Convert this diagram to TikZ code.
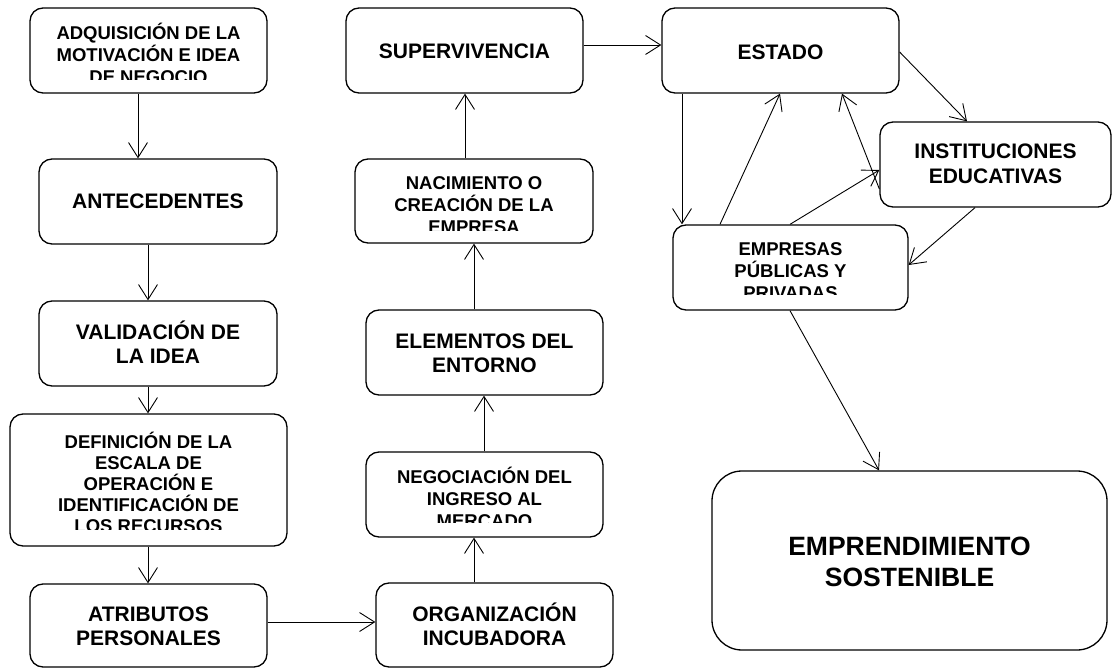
\documentclass[tikz,border=0pt]{standalone}
\usepackage{fontspec}
\setmainfont{Liberation Sans}
\usetikzlibrary{arrows.meta}
\tikzset{
  box/.style={draw, line width=1.3pt, rounded corners=13pt, inner sep=0pt},
  bigbox/.style={draw, line width=1.3pt, rounded corners=30pt, inner sep=0pt},
  arr/.style={line width=0.9pt, -{Straight Barb[length=15pt,width=19pt,line width=0.9pt]}},
  tsmall/.style={anchor=base, align=center, inner sep=0pt, font=\bfseries\fontsize{18.5}{22}\selectfont},
  tnorm/.style={anchor=base, align=center, inner sep=0pt, font=\bfseries\fontsize{21}{24}\selectfont},
  tbig/.style={anchor=base, align=center, inner sep=0pt, font=\bfseries\fontsize{26.5}{31}\selectfont},
}
\begin{document}
\begin{tikzpicture}[x=1pt,y=-1pt]
\useasboundingbox (0,0) rectangle (1112,668);
% boxes
\node[box, minimum width=237pt, minimum height=85pt] (adq) at (148.5,50.5) {};
\node[box, minimum width=238pt, minimum height=85pt] (ant) at (158,201.5) {};
\node[box, minimum width=238pt, minimum height=85pt] (val) at (158,343.5) {};
\node[box, minimum width=277pt, minimum height=132pt] (def) at (148.5,480) {};
\node[box, minimum width=237pt, minimum height=83pt] (atr) at (148.5,625.5) {};
\node[box, minimum width=237pt, minimum height=84pt] (org) at (494.5,625) {};
\node[box, minimum width=237pt, minimum height=85pt] (neg) at (484.5,494.5) {};
\node[box, minimum width=237pt, minimum height=85pt] (ele) at (484.5,352.5) {};
\node[box, minimum width=238pt, minimum height=84pt] (nac) at (474,201) {};
\node[box, minimum width=237pt, minimum height=85pt] (sup) at (464.5,50.5) {};
\node[box, minimum width=237pt, minimum height=85pt] (est) at (780.5,50.5) {};
\node[box, minimum width=231pt, minimum height=85pt] (ins) at (995.5,164.5) {};
\node[box, minimum width=235pt, minimum height=85pt] (emp) at (790.5,267.5) {};
\node[bigbox, minimum width=395pt, minimum height=179pt] (emd) at (909.5,560.5) {};
% texts (clipped); base anchor = last line
\begin{scope}
\clip (30,8) rectangle (267,80);
\node[tsmall] (adqt) at (148.5,84) {ADQUISICIÓN DE LA\\MOTIVACIÓN E IDEA\\DE NEGOCIO};
\end{scope}
\begin{scope}
\clip (355,159) rectangle (593,231);
\node[tsmall] (nact) at (474,234) {NACIMIENTO O\\CREACIÓN DE LA\\EMPRESA};
\end{scope}
\begin{scope}
\clip (673,225) rectangle (908,295);
\node[tsmall] (empt) at (790.5,300) {EMPRESAS\\PÚBLICAS Y\\PRIVADAS};
\end{scope}
\begin{scope}
\clip (366,452) rectangle (603,522);
\node[tsmall] (negt) at (484.5,527.3) {NEGOCIACIÓN DEL\\INGRESO AL\\MERCADO};
\end{scope}
\begin{scope}
\clip (10,414) rectangle (287,529);
\node[tsmall, font=\bfseries\fontsize{18.5}{21}\selectfont] (deft) at (148.5,532.3) {DEFINICIÓN DE LA\\ESCALA DE\\OPERACIÓN E\\IDENTIFICACIÓN DE\\LOS RECURSOS};
\end{scope}
% texts (normal)
\node[tnorm] (antt) at (158,209) {ANTECEDENTES};
\node[tnorm] (valt) at (158,364) {VALIDACIÓN DE\\LA IDEA};
\node[tnorm] (supt) at (464.5,59) {SUPERVIVENCIA};
\node[tnorm] (estt) at (780.5,60) {ESTADO};
\node[tnorm, font=\bfseries\fontsize{21}{25}\selectfont] (inst) at (995.5,184) {INSTITUCIONES\\EDUCATIVAS};
\node[tnorm] (elet) at (484.5,372.3) {ELEMENTOS DEL\\ENTORNO};
\node[tnorm] (orgt) at (494.5,645.7) {ORGANIZACIÓN\\INCUBADORA};
\node[tnorm] (atrt) at (148.5,645.7) {ATRIBUTOS\\PERSONALES};
\node[tbig] (emdt) at (909.5,586) {EMPRENDIMIENTO\\SOSTENIBLE};
% arrows left column
\draw[arr] ([xshift=-10.5pt]adq.south) -- ([xshift=-20pt]ant.north);
\draw[arr] ([xshift=-10pt]ant.south) -- ([xshift=-10pt]val.north);
\draw[arr] ([xshift=-10pt]val.south) -- ([xshift=-0.5pt]def.north);
\draw[arr] ([xshift=-0.5pt]def.south) -- ([xshift=-0.5pt]atr.north);
\draw[arr] ([yshift=3.5pt]atr.east) -- ([yshift=3pt]org.west);
% middle column
\draw[arr] ([xshift=-20.5pt]org.north) -- ([xshift=-10.5pt]neg.south);
\draw[arr] ([xshift=-0.5pt]neg.north) -- ([xshift=-0.5pt]ele.south);
\draw[arr] ([xshift=-10.5pt]ele.north) -- (nac.south);
\draw[arr] ([xshift=-9pt]nac.north) -- ([xshift=0.5pt]sup.south);
\draw[arr] ([yshift=5.5pt]sup.east) -- ([yshift=5.5pt]est.west);
% right cluster
\draw[arr] ([yshift=-1.5pt]est.east) -- ([xshift=-28.5pt]ins.north);
\draw[arr] ([yshift=-24.5pt]ins.west) -- ([xshift=61.5pt]est.south);
\draw[arr] ([xshift=-70.5pt]emp.north) -- ([xshift=-0.5pt]est.south);
\draw[arr] ([xshift=-98.5pt]est.south) -- ([xshift=-108.5pt]emp.north);
\draw[arr] ([xshift=-0.5pt]emp.north) -- ([yshift=-5.5pt]ins.west);
\draw[arr] ([xshift=-20.5pt]ins.south) -- ([yshift=2.5pt]emp.east);
\draw[arr] ([xshift=-0.5pt]emp.south) -- ([xshift=-30.5pt]emd.north);
\end{tikzpicture}
\end{document}
